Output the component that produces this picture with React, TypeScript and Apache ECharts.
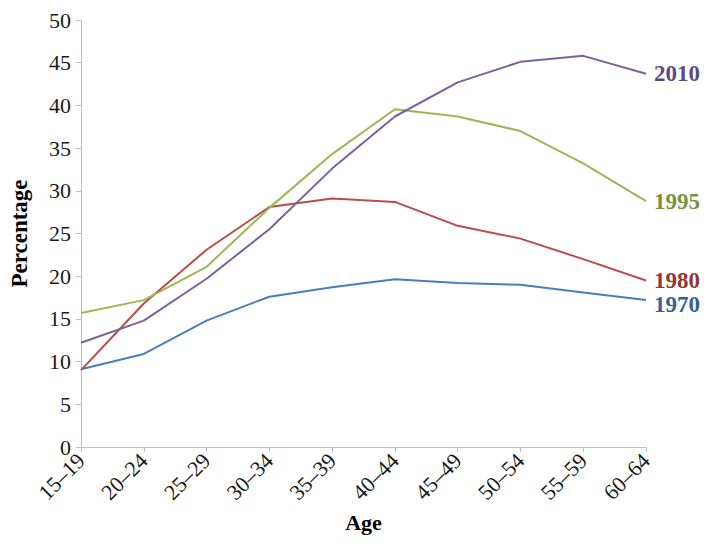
import React, { useEffect, useRef } from "react";
import * as echarts from "echarts";

const ages = ["15–19", "20–24", "25–29", "30–34", "35–39", "40–44", "45–49", "50–54", "55–59", "60–64"];
const s1970 = [9.1, 10.9, 14.8, 17.6, 18.7, 19.65, 19.2, 19.0, 18.1, 17.2];
const s1980 = [9.0, 16.8, 23.1, 28.1, 29.1, 28.7, 25.9, 24.4, 22.0, 19.5];
const s1995 = [15.7, 17.2, 21.1, 28.0, 34.3, 39.55, 38.7, 37.0, 33.2, 28.8];
const s2010 = [12.2, 14.8, 19.7, 25.5, 32.6, 38.7, 42.7, 45.1, 45.8, 43.7];
const yTicks = [0, 5, 10, 15, 20, 25, 30, 35, 40, 45, 50];

const FONT = "'Liberation Serif', 'DejaVu Serif', serif";

const seriesDefs = [
  { name: "1970", data: s1970, line: "#4a7ebb", label: "#376092", dy: 4 },
  { name: "1980", data: s1980, line: "#be4b48", label: "#953735", dy: 0 },
  { name: "1995", data: s1995, line: "#98b954", label: "#77933c", dy: 0 },
  { name: "2010", data: s2010, line: "#7d60a0", label: "#5c4a86", dy: 0 },
];

export default function App() {
  const ref = useRef<HTMLDivElement>(null);
  useEffect(() => {
    if (!ref.current) return;
    const chart = echarts.init(ref.current, undefined, { renderer: "svg" });
    chart.setOption({
      animation: false,
      backgroundColor: "#ffffff",
      textStyle: { fontFamily: FONT },
      grid: { left: 78, right: 69, top: 20, bottom: 103, containLabel: false },
      xAxis: {
        type: "category",
        data: ages,
        boundaryGap: false,
        axisLine: { lineStyle: { color: "#bfbfbf", width: 1 } },
        axisTick: { show: true, alignWithLabel: true, length: 5, lineStyle: { color: "#bfbfbf" } },
        axisLabel: { rotate: 45, color: "#1a1a1a", fontSize: 22, fontFamily: FONT, margin: 10 },
        name: "Age",
        nameLocation: "middle",
        nameGap: 64,
        nameTextStyle: { fontWeight: "bold", fontSize: 22, color: "#000", fontFamily: FONT },
      },
      yAxis: {
        type: "value",
        min: yTicks[0],
        max: yTicks[yTicks.length - 1],
        interval: 5,
        splitLine: { show: false },
        axisLine: { show: true, lineStyle: { color: "#bfbfbf", width: 1 } },
        axisTick: { show: true, length: 5, lineStyle: { color: "#bfbfbf" } },
        axisLabel: { color: "#1a1a1a", fontSize: 22, fontFamily: FONT, margin: 10 },
        name: "Percentage",
        nameLocation: "middle",
        nameGap: 50,
        nameTextStyle: { fontWeight: "bold", fontSize: 23, color: "#000", fontFamily: FONT },
      },
      series: seriesDefs.map((s) => ({
        name: s.name,
        type: "line",
        data: s.data,
        showSymbol: false,
        symbol: "none",
        lineStyle: { color: s.line, width: 2 },
        itemStyle: { color: s.line },
        endLabel: {
          show: true,
          formatter: s.name,
          color: s.label,
          fontWeight: "bold",
          fontSize: 23,
          fontFamily: FONT,
          distance: 8,
          offset: [0, s.dy],
        },
      })),
    });
    return () => chart.dispose();
  }, []);
  return <div ref={ref} style={{ width: 715, height: 550, position: "absolute", left: 0, top: 0 }} />;
}
